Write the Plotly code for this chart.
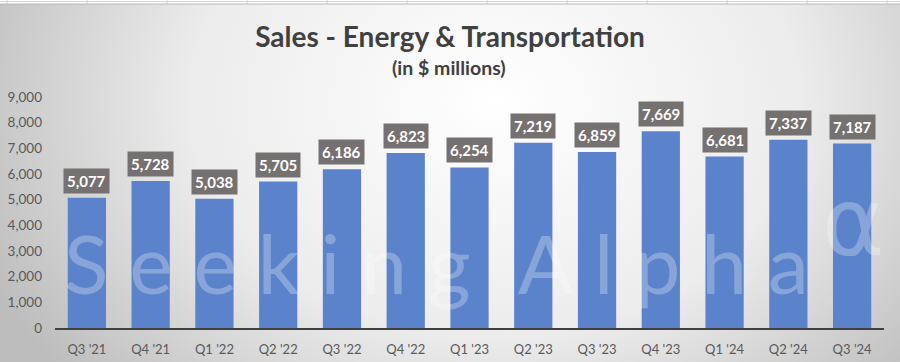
import base64
import plotly.graph_objects as go

quarters = ["Q3 '21", "Q4 '21", "Q1 '22", "Q2 '22", "Q3 '22", "Q4 '22", "Q1 '23",
            "Q2 '23", "Q3 '23", "Q4 '23", "Q1 '24", "Q2 '24", "Q3 '24"]
sales = [5077, 5728, 5038, 5705, 6186, 6823, 6254, 7219, 6859, 7669, 6681, 7337, 7187]
y_ticks = [0, 1000, 2000, 3000, 4000, 5000, 6000, 7000, 8000, 9000]

W, H = 900, 362
ML, MR, MT, MB = 55, 16, 97, 34
PW, PH = W - ML - MR, H - MT - MB

def px_x(x):
    return (x - ML) / PW

def px_y(y):
    return (H - MB - y) / PH

vlines = "".join(f'<line x1="{x}" y1="0" x2="{x}" y2="4" stroke="#d4d4d4" stroke-width="1"/>' for x in range(7, 900, 80))
svg = f'''<svg xmlns="http://www.w3.org/2000/svg" width="{W}" height="{H}" viewBox="0 0 {W} {H}" preserveAspectRatio="none">
<defs><radialGradient id="g" cx="0.55" cy="0.28" r="0.62" gradientTransform="translate(0.55 0.28) scale(1 1.9) translate(-0.55 -0.28)">
<stop offset="0" stop-color="#ffffff"/><stop offset="0.55" stop-color="#ececec"/><stop offset="1" stop-color="#bdbdbd"/></radialGradient></defs>
<rect x="0" y="0" width="{W}" height="{H}" fill="url(#g)"/>
<rect x="0" y="0" width="{W}" height="4" fill="#ffffff"/>
<line x1="0" y1="1.5" x2="{W}" y2="1.5" stroke="#d4d4d4" stroke-width="1"/>
{vlines}
<line x1="0" y1="4" x2="{W}" y2="4" stroke="#b8b8b8" stroke-width="1"/>
</svg>'''
src = "data:image/svg+xml;base64," + base64.b64encode(svg.encode()).decode()

fig = go.Figure(go.Bar(x=quarters, y=sales, marker=dict(color="#5B83CC", line=dict(width=0))))

wm_color = "rgba(255,255,255,0.28)"
annotations = []
for q, v in zip(quarters, sales):
    annotations.append(dict(x=q, y=v, xref="x", yref="y", text=f"<b>{v:,}</b>", showarrow=False,
                            yanchor="bottom", yshift=4, bgcolor="#767171", borderpad=3,
                            font=dict(family="Lato", size=15, color="white")))
annotations.append(dict(x=px_x(449), y=px_y(68), xref="paper", yref="paper", text="<b>(in $ millions)</b>",
                        showarrow=False, xanchor="center", yanchor="middle",
                        font=dict(family="Lato", size=19.5, color="#404040")))
annotations.append(dict(x=px_x(62), y=px_y(262), xref="paper", yref="paper",
                        text='<span style="letter-spacing:21px">Seeking\u200aAlpha</span>',
                        showarrow=False, xanchor="left", yanchor="middle",
                        font=dict(family="Lato", size=82, color=wm_color)))
annotations.append(dict(x=px_x(820), y=px_y(222), xref="paper", yref="paper",
                        text="\u03b1", showarrow=False, xanchor="left", yanchor="middle",
                        font=dict(family="DejaVu Sans", size=95, color=wm_color)))

fig.update_layout(
    width=W, height=H,
    margin=dict(l=ML, r=MR, t=MT, b=MB, autoexpand=False),
    paper_bgcolor="#d0d0d0", plot_bgcolor="rgba(0,0,0,0)",
    bargap=0.4, showlegend=False,
    title=dict(text="<b>Sales - Energy & Transportation</b>", x=0.5, xanchor="center",
               y=1 - 37 / H, yanchor="middle", yref="container",
               font=dict(family="Lato", size=28, color="#404040")),
    images=[dict(source=src, xref="paper", yref="paper", x=-ML / PW, y=1 + MT / PH,
                 sizex=W / PW, sizey=H / PH, xanchor="left", yanchor="top",
                 sizing="stretch", layer="below")],
    annotations=annotations,
    xaxis=dict(showline=True, linecolor="#404040", linewidth=2, showgrid=False, ticks="",
               automargin=False,
               tickfont=dict(family="Lato", size=13, color="#595959"), ticklabelstandoff=8),
    yaxis=dict(range=[0, 9000], tickvals=y_ticks, tickformat=",", showgrid=False, zeroline=False,
               automargin=False,
               showline=False, ticks="", ticklabelstandoff=12,
               tickfont=dict(family="Lato", size=13.5, color="#595959")),
)
fig.write_html("out.html", config={"displayModeBar": False},
               post_script="document.body.style.margin='0';document.body.style.overflow='hidden';")
